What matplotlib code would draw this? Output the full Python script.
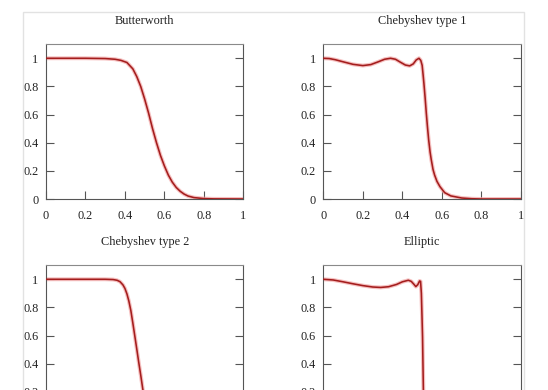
import matplotlib
matplotlib.use("Agg")
import matplotlib.pyplot as plt
from matplotlib.patches import Rectangle

plt.rcParams["font.family"] = ["Liberation Serif", "DejaVu Serif"]

# values (normalised frequency vs. gain)
butter_x = [0.00, 0.10, 0.20, 0.30, 0.35, 0.38, 0.41, 0.44, 0.46, 0.48, 0.50,
            0.52, 0.54, 0.56, 0.58, 0.60, 0.62, 0.64, 0.66, 0.68, 0.70, 0.72,
            0.75, 0.80, 0.85, 1.00]
butter_y = [1.000, 1.000, 1.000, 0.998, 0.993, 0.985, 0.970, 0.925, 0.870, 0.800,
            0.710, 0.610, 0.500, 0.400, 0.310, 0.235, 0.170, 0.120, 0.082, 0.055,
            0.035, 0.021, 0.010, 0.003, 0.001, 0.000]

cheby1_x = [0.00, 0.03, 0.06, 0.10, 0.15, 0.20, 0.24, 0.28, 0.31, 0.34, 0.365,
            0.39, 0.415, 0.437, 0.455, 0.47, 0.484, 0.493, 0.500, 0.505, 0.509,
            0.515, 0.521, 0.527, 0.533, 0.540, 0.546, 0.555, 0.563, 0.575, 0.590,
            0.614, 0.645, 0.700, 0.750, 0.800, 1.000]
cheby1_y = [1.000, 0.998, 0.990, 0.975, 0.957, 0.948, 0.955, 0.976, 0.993, 1.000,
            0.993, 0.972, 0.952, 0.946, 0.960, 0.988, 1.000, 0.985, 0.950, 0.880,
            0.820, 0.720, 0.610, 0.510, 0.420, 0.335, 0.280, 0.210, 0.170, 0.125,
            0.088, 0.045, 0.022, 0.007, 0.002, 0.000, 0.000]

cheby2_x = [0.00, 0.15, 0.30, 0.34, 0.36, 0.375, 0.39, 0.40, 0.41, 0.42, 0.43,
            0.44, 0.45, 0.46, 0.47, 0.48, 0.49, 0.50, 0.51, 0.52]
cheby2_y = [1.000, 1.000, 1.000, 0.998, 0.993, 0.983, 0.960, 0.935, 0.897, 0.845,
            0.778, 0.690, 0.598, 0.505, 0.410, 0.320, 0.225, 0.140, 0.070, 0.030]

ellip_x = [0.00, 0.05, 0.10, 0.15, 0.20, 0.25, 0.29, 0.33, 0.37, 0.40, 0.43,
           0.445, 0.458, 0.468, 0.478, 0.487, 0.492, 0.496, 0.499, 0.502, 0.504,
           0.506, 0.508, 0.510]
ellip_y = [1.000, 0.995, 0.982, 0.968, 0.955, 0.945, 0.942, 0.947, 0.963, 0.982,
           0.993, 0.985, 0.965, 0.948, 0.962, 0.988, 0.985, 0.900, 0.750, 0.590,
           0.410, 0.230, 0.050, 0.000]

titles = ["Butterworth", "Chebyshev type 1", "Chebyshev type 2", "Elliptic"]
curves = [(butter_x, butter_y), (cheby1_x, cheby1_y),
          (cheby2_x, cheby2_y), (ellip_x, ellip_y)]
ticks = [0, 0.2, 0.4, 0.6, 0.8, 1]
tick_labels = ["0", "0.2", "0.4", "0.6", "0.8", "1"]

W, H = 548, 390
fig = plt.figure(figsize=(W / 100, H / 100), dpi=100)

# light frame around the whole figure (runs off the bottom edge)
fig.patches.append(Rectangle((23 / W, -0.2), (524 - 23) / W, 0.2 + 1 - 12 / H,
                             transform=fig.transFigure, fill=False,
                             edgecolor="#e2e2e2", linewidth=1.0))

# axes boxes in pixels: left, y-of-zero (from top), width, height
boxes = [(46, 199, 197.3, 154.8), (323.3, 199, 197.7, 154.8),
         (46, 420, 197.3, 154.8), (323.3, 420, 197.7, 154.8)]

SPINE = "#555555"
for i, ((left, y0, w, h), title, (xs, ys)) in enumerate(zip(boxes, titles, curves)):
    ax = fig.add_axes([left / W, (H - y0) / H, w / W, h / H])
    ax.plot(xs, ys, color="#f2a6a6", lw=2.8, alpha=0.7,
            solid_capstyle="round", zorder=2)
    ax.plot(xs, ys, color="#a41d1d", lw=1.15, zorder=3)
    ax.set_xlim(0, 1)
    ax.set_ylim(0, 1.1)
    ax.set_xticks(ticks)
    ax.set_xticklabels(tick_labels)
    ax.set_yticks(ticks)
    ax.set_yticklabels(tick_labels)
    ax.tick_params(direction="in", length=5.8, width=0.8, color=SPINE,
                   labelsize=8.8, labelcolor="#222222", top=False, right=True,
                   labelright=False)
    # bottom row is cut off by the frame edge; its x labels would be off canvas
    ax.tick_params(axis="x", pad=8, labelbottom=(i < 2))
    ax.tick_params(axis="y", pad=5.5)
    for side, sp in ax.spines.items():
        sp.set_color("#8a8a8a" if side == "top" else SPINE)
        sp.set_linewidth(0.8)
    ax.set_title(title, fontsize=8.8, color="#222222", pad=14.5)

fig.savefig("out.png", dpi=100)
